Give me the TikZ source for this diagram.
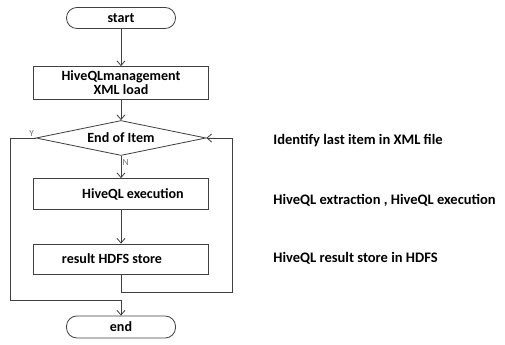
\documentclass[tikz,border=0pt]{standalone}
\usepackage{fontspec}
\setmainfont{Carlito}
\usepackage{tikz}
\usetikzlibrary{arrows,arrows.meta,shapes,calc,positioning}

\tikzset{
  term/.style={draw=black!75, rounded corners=0.31cm, minimum width=3.27cm, minimum height=0.63cm, font=\fontsize{12}{14}\bfseries, inner sep=0pt},
  procbox/.style={draw=black!75, minimum width=5.25cm, minimum height=0.93cm, font=\fontsize{12}{14}\bfseries, inner sep=0pt, align=center},
  decide/.style={draw=black!75, diamond, aspect=5, minimum width=5.1cm, minimum height=1.05cm, font=\fontsize{12}{14}\bfseries, inner sep=0pt},
  note/.style={anchor=west, font=\fontsize{12.4}{14}\bfseries, inner sep=0pt},
  yn/.style={font=\footnotesize, text=black!55, inner sep=1pt}
}

\begin{document}
\begin{tikzpicture}[x=0.03cm, y=-0.03cm, line width=0.7pt, >={Straight Barb[length=4pt,width=7pt]}]
\useasboundingbox (0,0) rectangle (505,345);

\node[term] (start) at (121,18) {start};
\node[procbox, minimum height=0.99cm] (load) at (121,83) {HiveQLmanagement\\[-2pt]XML load};
\node[decide] (item) at (121,138) {End of Item};
\node[procbox] (exec) at (121,194) {\hspace*{0.72cm}HiveQL execution};
\node[procbox, minimum height=0.9cm] (store) at (121,259) {result HDFS store\hspace*{0.54cm}};
\node[term, minimum height=0.66cm] (end) at (121,327) {end};

\node[note] (n1) at (273,141) {Identify last item in XML file};
\node[note] (n2) at (273,200) {HiveQL extraction , HiveQL execution};
\node[note] (n3) at (273,258) {HiveQL result store in HDFS};

\coordinate (r1) at (232,292);
\coordinate (l1) at (10,300);

\draw[->, black!75] (start) -- (load);
\draw[->, black!75] (load) -- (item);
\draw[->, black!75] (item) -- node[yn, right, pos=0.3] {N} (exec);
\draw[->, black!75] (exec) -- (store);
\draw[->, black!75] (store.south) |- (r1) |- (item.east);
\draw[->, black!75] (item.west) node[yn, above left] {Y} -| (l1) -| (end.north);
\end{tikzpicture}
\end{document}
